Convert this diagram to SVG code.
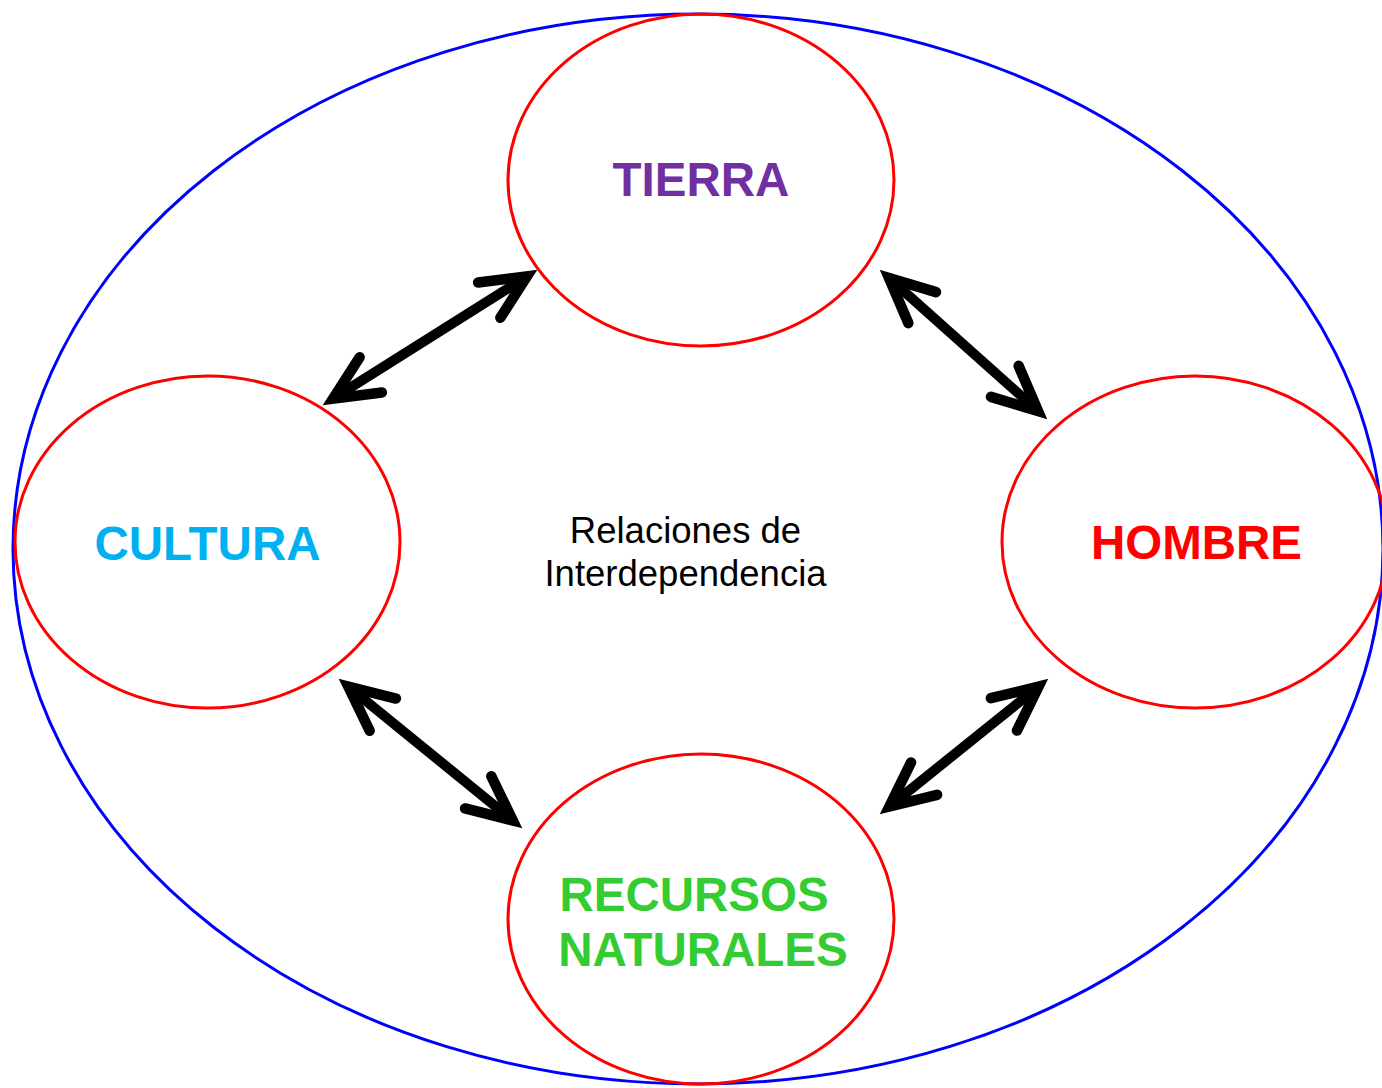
<svg xmlns="http://www.w3.org/2000/svg" width="1382" height="1088" viewBox="0 0 1382 1088">
  <style>
    .node { fill: none; stroke: #FF0000; stroke-width: 3; }
    .outer { fill: none; stroke: #0000FF; stroke-width: 3; }
    .label { font-family: "Liberation Sans", Arial, sans-serif; font-weight: bold; font-size: 47.5px; text-anchor: middle; }
    .center { font-family: "Liberation Sans", Arial, sans-serif; font-size: 36.5px; text-anchor: middle; fill: #000000; }
    .conn { fill: none; stroke: #000000; stroke-width: 10; stroke-linecap: butt; marker-start: url(#chev); marker-end: url(#chev); }
  </style>
  <defs>
    <marker id="chev" markerUnits="userSpaceOnUse" orient="auto-start-reverse" refX="-12" refY="0" viewBox="-70 -35 80 70" markerWidth="80" markerHeight="70" overflow="visible">
      <path d="M-56.5,-20.8 L-12,0 L-56.5,20.8" fill="none" stroke="#000000" stroke-width="10.5" stroke-linecap="round" stroke-linejoin="miter" stroke-miterlimit="10"/>
    </marker>
  </defs>
  <rect x="0" y="0" width="1382" height="1088" fill="#FFFFFF"/>
  <g id="outer">
    <ellipse class="outer" cx="698" cy="549" rx="685" ry="535"/>
  </g>
  <g id="tierra">
    <ellipse class="node" cx="701" cy="180" rx="193" ry="166"/>
    <text class="label" x="701" y="196" fill="#7030A0">TIERRA</text>
  </g>
  <g id="cultura">
    <ellipse class="node" cx="207.5" cy="542" rx="192.5" ry="166"/>
    <text class="label" x="207.5" y="560" fill="#00B0F0">CULTURA</text>
  </g>
  <g id="hombre">
    <ellipse class="node" cx="1195" cy="542" rx="193" ry="166"/>
    <text class="label" x="1196.5" y="559" fill="#FF0000">HOMBRE</text>
  </g>
  <g id="recursos">
    <ellipse class="node" cx="701" cy="919" rx="193" ry="165"/>
    <text class="label" x="694" y="911" fill="#33CC33">RECURSOS</text>
    <text class="label" x="703" y="966" fill="#33CC33">NATURALES</text>
  </g>
  <g id="center-label">
    <text class="center" x="685.5" y="543">Relaciones de</text>
    <text class="center" x="685.5" y="586">Interdependencia</text>
  </g>
  <g id="connectors">
    <path class="conn" d="M333.1,398.6 L526.9,276.4"/>
    <path class="conn" d="M889.0,278.0 L1038.0,411.0"/>
    <path class="conn" d="M348.3,686.6 L512.7,820.4"/>
    <path class="conn" d="M1038.6,686.5 L889.4,806.5"/>
  </g>
</svg>
